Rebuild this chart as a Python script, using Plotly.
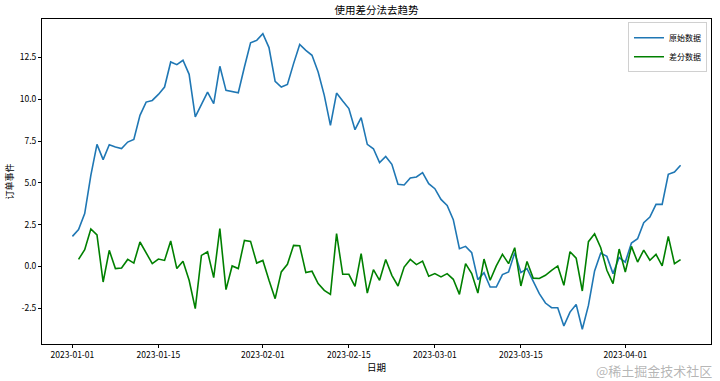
import pandas as pd
import plotly.graph_objects as go

# ---- data ----
dates = pd.date_range("2023-01-01", periods=100, freq="D")

original = [
    1.80, 2.20, 3.16, 5.45, 7.30, 6.39, 7.28, 7.14, 7.05, 7.44,
    7.60, 9.04, 9.83, 9.93, 10.29, 10.73, 12.23, 12.07, 12.33, 11.49,
    8.94, 9.64, 10.43, 9.74, 11.97, 10.53, 10.47, 10.39, 11.93, 13.38,
    13.52, 13.92, 13.09, 11.07, 10.73, 10.89, 12.13, 13.28, 12.92, 12.63,
    11.63, 10.23, 8.44, 10.37, 9.89, 9.44, 8.18, 8.90, 7.30, 7.04,
    6.21, 6.58, 6.11, 4.91, 4.87, 5.29, 5.35, 5.61, 4.95, 4.65,
    4.01, 3.65, 2.80, 1.06, 1.20, 0.82, -0.79, -0.37, -1.23, -1.23,
    -0.49, -0.33, 0.82, -0.37, -0.13, -0.93, -1.63, -2.19, -2.47, -2.47,
    -3.56, -2.73, -2.27, -3.76, -2.33, -0.27, 0.80, 0.60, -0.43, 0.53,
    0.26, 1.40, 1.66, 2.62, 2.95, 3.71, 3.71, 5.51, 5.65, 6.05,
]

differenced = [
    None, 0.42, 1.00, 2.24, 1.88, -0.93, 0.96, -0.13, -0.09, 0.42,
    0.20, 1.46, 0.80, 0.17, 0.44, 0.36, 1.52, -0.13, 0.31, -0.83,
    -2.52, 0.66, 0.88, -0.67, 2.26, -1.39, 0.03, -0.13, 1.56, 1.50,
    0.20, 0.36, -0.83, -1.93, -0.33, 0.13, 1.26, 1.24, -0.37, -0.29,
    -1.03, -1.43, -1.67, 1.96, -0.47, -0.47, -1.19, 0.77, -1.59, -0.19,
    -0.83, 0.41, -0.53, -1.17, -0.04, 0.42, 0.11, 0.32, -0.59, -0.43,
    -0.63, -0.43, -0.77, -1.67, 0.17, -0.43, -1.59, 0.44, -0.83, 0.03,
    0.72, 0.17, 1.12, -1.17, 0.30, -0.70, -0.72, -0.53, -0.23, 0.03,
    -1.13, 0.88, 0.50, -1.47, 1.48, 1.95, 1.12, -0.23, -1.03, 1.04,
    -0.33, 1.20, 0.26, 0.98, 0.37, 0.72, 0.03, 1.80, 0.17, 0.41,
]

x_tick_vals = ["2023-01-01", "2023-01-15", "2023-02-01", "2023-02-15",
               "2023-03-01", "2023-03-15", "2023-04-01"]
y_tick_vals = [-2.5, 0.0, 2.5, 5.0, 7.5, 10.0, 12.5]
y_tick_text = ["-2.5", "0.0", "2.5", "5.0", "7.5", "10.0", "12.5"]

title_text = "使用差分法去趋势"
x_label = "日期"
y_label = "订单事件"
series_names = ["原始数据", "差分数据"]

FONT = "Noto Sans CJK SC"
L, R, T, B = 42, 9, 19, 37
PW, PH = 720 - L - R, 381 - T - B

fig = go.Figure()
fig.add_trace(go.Scatter(x=dates, y=original, mode="lines", name=series_names[0],
                         line=dict(color="#1f77b4", width=1.6)))
fig.add_trace(go.Scatter(x=dates, y=differenced, mode="lines", name=series_names[1],
                         line=dict(color="#008000", width=1.6)))

x0 = dates[0] - pd.Timedelta(days=4.95)
x1 = dates[-1] + pd.Timedelta(days=4.95)

fig.update_layout(
    template="none",
    width=720, height=381,
    margin=dict(l=L, r=R, t=T, b=B, autoexpand=False),
    paper_bgcolor="white", plot_bgcolor="white",
    font=dict(family=FONT, size=9, color="black"),
    title=dict(text=title_text, x=0.5, xanchor="center", xref="paper",
               y=1 - 10.5 / 381, yref="container", yanchor="middle",
               font=dict(size=10.5)),
    showlegend=True,
    legend=dict(x=0.994, xanchor="right", y=0.99, yanchor="top",
                bordercolor="#d0d0d0", borderwidth=1, bgcolor="rgba(255,255,255,0.8)",
                font=dict(size=8), itemwidth=30, tracegroupgap=0),
)

fig.update_xaxes(
    type="date", range=[x0, x1], automargin=False,
    tickvals=x_tick_vals, ticktext=x_tick_vals,
    showline=True, mirror=True, linecolor="black", linewidth=1,
    ticks="outside", ticklen=3, tickwidth=0.8, tickcolor="black",
    showgrid=False, zeroline=False,
    tickfont=dict(size=8.5),
    title=dict(text=x_label, font=dict(size=9.5), standoff=2),
)
fig.update_yaxes(
    range=[-4.64, 14.80], automargin=False,
    tickvals=y_tick_vals, ticktext=y_tick_text,
    showline=True, mirror=True, linecolor="black", linewidth=1,
    ticks="outside", ticklen=3, tickwidth=0.8, tickcolor="black",
    showgrid=False, zeroline=False,
    tickfont=dict(size=8.5),
    title=dict(text=y_label, font=dict(size=9), standoff=4),
)

fig.add_annotation(text="@稀土掘金技术社区", xref="paper", yref="paper",
                   x=(714 - L) / PW, xanchor="right", y=-(370 - (381 - B)) / PH, yanchor="middle",
                   showarrow=False, font=dict(size=13, color="rgba(150,150,150,0.7)"))

fig.write_html("out.html", config={"displayModeBar": False},
               post_script="document.body.style.margin='0';")
